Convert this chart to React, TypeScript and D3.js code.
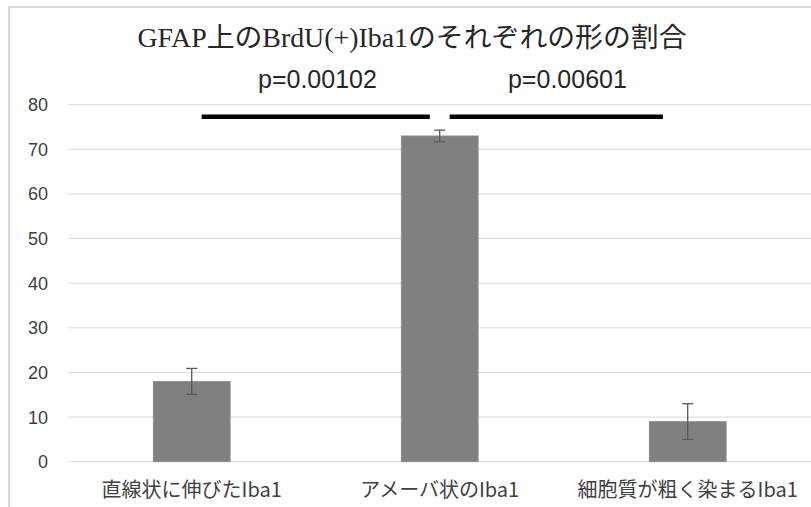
import React from "react";
import * as d3 from "d3";

// Share of each BrdU(+) Iba1 morphology on GFAP
const categories = ["直線状に伸びたIba1", "アメーバ状のIba1", "細胞質が粗く染まるIba1"];
const values = [18, 73, 9];
const errors = [2.9, 1.3, 4.0];
const yTicks = [0, 10, 20, 30, 40, 50, 60, 70, 80];

// Significance brackets: start/end along the category axis (index units), height in data units
const sigFrom = [0.04, 1.04];
const sigTo = [0.96, 1.9];
const sigLevel = [77.3, 77.3];
const sigText = ["p=0.00102", "p=0.00601"];
const sigTextPos = [0.507, 1.515];

const W = 811;
const H = 507;
const plotLeft = 67.7;
const plotRight = 811.7;
const plotTop = 104.7;
const plotBottom = 461.7;

const SANS = "'Liberation Sans', Arial, sans-serif";
const CJK = "'Noto Sans CJK JP', 'Noto Sans', sans-serif";

export default function App() {
  const x = d3
    .scaleBand<string>()
    .domain(categories)
    .range([plotLeft, plotRight])
    .paddingInner(0.69)
    .paddingOuter(0.345);
  const y = d3.scaleLinear().domain([0, 80]).range([plotBottom, plotTop]);
  const step = x.step();
  const center = (i: number) => (x(categories[0]) as number) + x.bandwidth() / 2 + i * step;
  const capHalf = 5.5;

  return (
    <svg
      width={W}
      height={H}
      style={{ position: "absolute", left: 0, top: 0, background: "#fff" }}
    >
      <rect x={0} y={0} width={W} height={H} fill="#fff" />
      <rect x={9} y={7} width={W + 10} height={H + 10} fill="none" stroke="#d9d9d9" strokeWidth={2} />

      <text
        x={412}
        y={47}
        textAnchor="middle"
        fontFamily={`'Liberation Serif', 'DejaVu Serif', ${CJK}`}
        fontSize={27}
        textLength={549}
        lengthAdjust="spacingAndGlyphs"
        fill="#262626"
      >
        GFAP上のBrdU(+)Iba1のそれぞれの形の割合
      </text>

      {yTicks.map((t) => (
        <g key={t}>
          <line x1={plotLeft} x2={W} y1={y(t)} y2={y(t)} stroke="#d9d9d9" strokeWidth={1} />
          <text
            x={48}
            y={y(t) + 6.5}
            textAnchor="end"
            fontFamily={SANS}
            fontSize={18}
            fill="#404040"
          >
            {t}
          </text>
        </g>
      ))}

      {categories.map((c, i) => (
        <g key={c}>
          <rect
            x={x(c)}
            y={y(values[i])}
            width={x.bandwidth()}
            height={y(0) - y(values[i])}
            fill="#808080"
            stroke="#8c8c8c"
            strokeWidth={0.75}
          />
          <g stroke="#595959" strokeWidth={1.3}>
            <line
              x1={center(i)}
              x2={center(i)}
              y1={y(values[i] + errors[i])}
              y2={y(values[i] - errors[i])}
            />
            <line
              x1={center(i) - capHalf}
              x2={center(i) + capHalf}
              y1={y(values[i] + errors[i])}
              y2={y(values[i] + errors[i])}
            />
            <line
              x1={center(i) - capHalf}
              x2={center(i) + capHalf}
              y1={y(values[i] - errors[i])}
              y2={y(values[i] - errors[i])}
            />
          </g>
          <text
            x={center(i)}
            y={497}
            textAnchor="middle"
            fontFamily={CJK}
            fontSize={20}
            fill="#404040"
          >
            {c}
          </text>
        </g>
      ))}

      {sigText.map((s, k) => (
        <g key={s}>
          <line
            x1={center(sigFrom[k])}
            x2={center(sigTo[k])}
            y1={y(sigLevel[k])}
            y2={y(sigLevel[k])}
            stroke="#000"
            strokeWidth={4.5}
          />
          <text
            x={center(sigTextPos[k])}
            y={88}
            textAnchor="middle"
            fontFamily={SANS}
            fontSize={25}
            fill="#262626"
          >
            {s}
          </text>
        </g>
      ))}
    </svg>
  );
}
